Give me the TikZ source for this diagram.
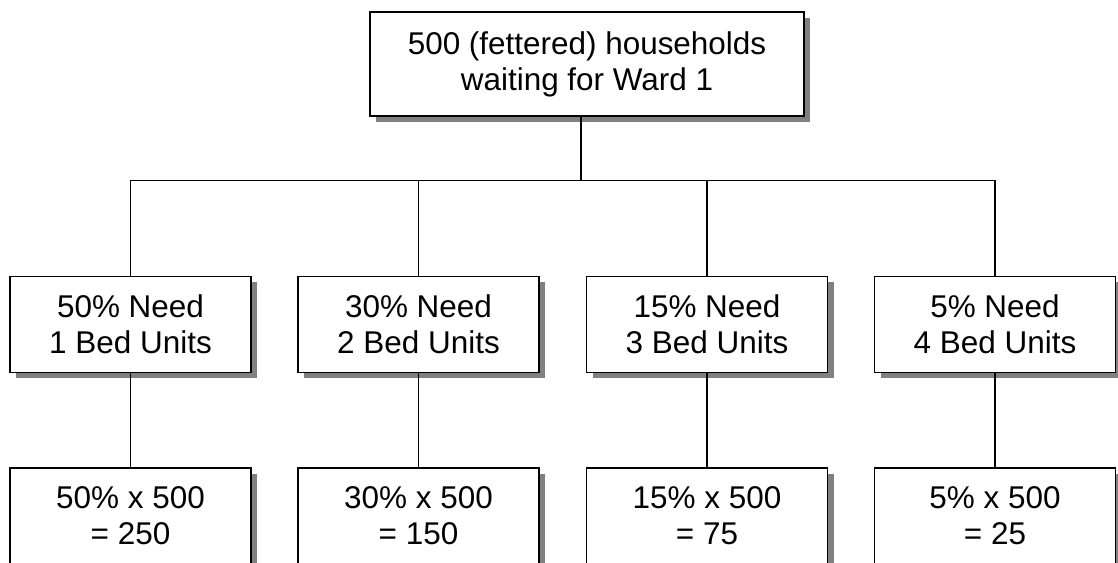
\documentclass[tikz,border=0pt]{standalone}
\usepackage{fontspec}
\setmainfont{Liberation Sans}
\usetikzlibrary{positioning,shadows}

\begin{document}
\begin{tikzpicture}[x=0.02cm,y=-0.02cm,
  box/.style={draw,line width=1.1pt,fill=white,minimum width=241*0.02cm,minimum height=96*0.02cm,align=center,inner sep=0pt,
    font=\fontsize{17.9}{20.6}\selectfont,
    drop shadow={shadow xshift=0.12cm,shadow yshift=-0.12cm,fill=black!50,opacity=1}},
  link/.style={line width=1pt}]
  \useasboundingbox (0,0) rectangle (1118,563);
  \node[box,minimum width=434*0.02cm,minimum height=104*0.02cm] (top) at (587,64) {500 (fettered) households\\waiting for Ward 1};

  \node[box] (a1) at (130.5,324.5) {50\% Need\\1 Bed Units};
  \node[box] (a2) at (418.5,324.5) {30\% Need\\2 Bed Units};
  \node[box] (a3) at (707,324.5) {15\% Need\\3 Bed Units};
  \node[box] (a4) at (995,324.5) {5\% Need\\4 Bed Units};

  \node[box] (b1) at (130.5,516) {50\% x 500\\= 250};
  \node[box] (b2) at (418.5,516) {30\% x 500\\= 150};
  \node[box] (b3) at (707,516) {15\% x 500\\= 75};
  \node[box] (b4) at (995,516) {5\% x 500\\= 25};

  \coordinate (bus) at (581,180.5);
  \draw[link] (top.south -| bus) -- (bus);
  \draw[link] (a1.north) |- (a4.north |- bus) -- (a4.north);
  \draw[link] (a2.north) -- (a2.north |- bus);
  \draw[link] (a3.north) -- (a3.north |- bus);

  \draw[link] (a1.south) -- (b1.north);
  \draw[link] (a2.south) -- (b2.north);
  \draw[link] (a3.south) -- (b3.north);
  \draw[link] (a4.south) -- (b4.north);
 \end{tikzpicture}
\end{document}
